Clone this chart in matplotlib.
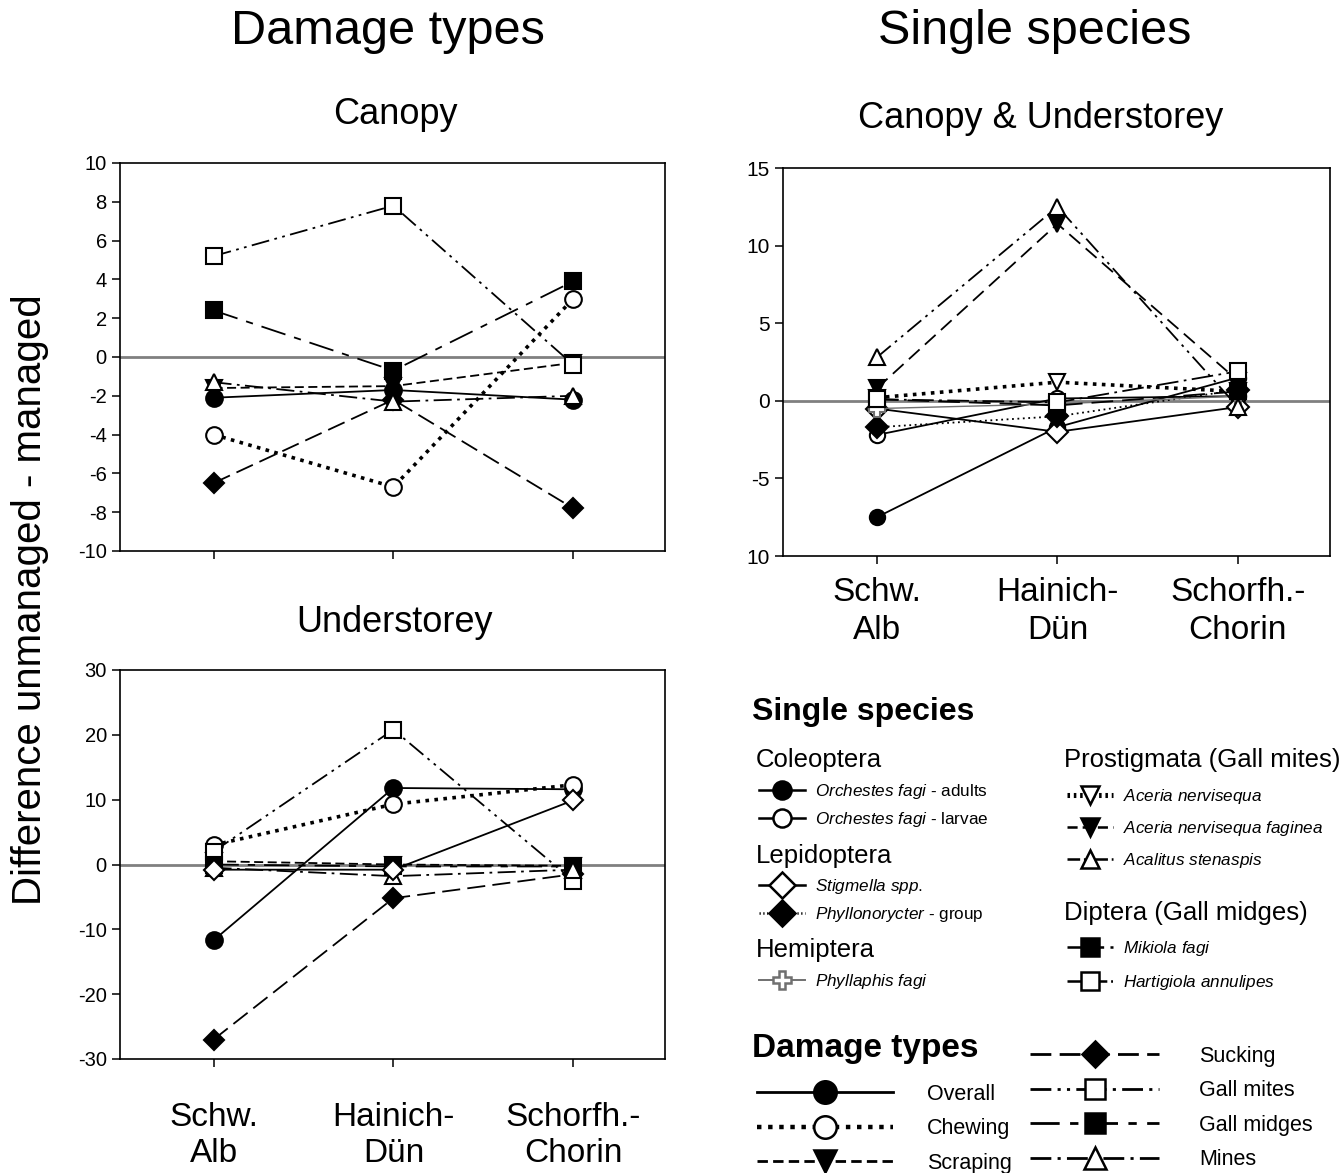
import numpy as np
import matplotlib
matplotlib.use("Agg")
import matplotlib.pyplot as plt
from matplotlib.lines import Line2D

plt.rcParams['font.family'] = ['Liberation Sans', 'DejaVu Sans']
plt.rcParams['mathtext.fontset'] = 'custom'
plt.rcParams['mathtext.rm'] = 'Liberation Sans'
plt.rcParams['mathtext.it'] = 'Liberation Sans:italic'
plt.rcParams['axes.unicode_minus'] = False

sites = ["Schw.\nAlb", "Hainich-\nDün", "Schorfh.-\nChorin"]
x = np.arange(1, 4)

# damage types - canopy
overall_c = [-2.1, -1.7, -2.2]
chewing_c = [-4.0, -6.7, 3.0]
scraping_c = [-1.6, -1.5, -0.3]
sucking_c = [-6.5, -2.2, -7.8]
gallmites_c = [5.2, 7.8, -0.4]
gallmidges_c = [2.4, -0.7, 3.9]
mines_c = [-1.3, -2.3, -2.0]

# damage types - understorey
overall_u = [-11.7, 11.8, 11.6]
chewing_u = [3.0, 9.3, 12.3]
scraping_u = [0.5, 0.0, -0.2]
sucking_u = [-27.0, -5.2, -1.5]
gallmites_u = [2.0, 20.8, -2.5]
gallmidges_u = [0.0, -0.3, -0.3]
mines_u = [-0.5, -1.8, -0.8]
extra_u = [-0.8, -0.8, 9.9]

# single species - canopy & understorey
orch_adults = [-7.5, -1.7, 1.5]
orch_larvae = [-2.2, 0.15, 0.3]
stigmella = [-0.5, -2.0, -0.4]
phyllonorycter = [-1.7, -1.0, 0.7]
phyllaphis = [-0.5, -0.2, 0.3]
aceria = [0.2, 1.2, 0.6]
aceria_fag = [0.8, 11.4, 1.3]
acalitus = [2.8, 12.5, -0.4]
mikiola = [0.1, -0.3, 0.6]
hartigiola = [0.1, -0.1, 1.9]

right_yticks = [15, 10, 5, 0, -5, -10]
right_yticklabels = ["15", "10", "5", "0", "-5", "10"]

damage_names = ["Overall", "Chewing", "Scraping", "Sucking", "Gall mites", "Gall midges", "Mines"]
canopy_vals = [overall_c, chewing_c, scraping_c, sucking_c, gallmites_c, gallmidges_c, mines_c]
under_vals = [overall_u, chewing_u, scraping_u, sucking_u, gallmites_u, gallmidges_u, mines_u]

damage_style = {
    "Overall": dict(ls='-', lw=1.3, marker='o', mfc='k', ms=12),
    "Chewing": dict(ls=(0, (1, 1.5)), lw=2.6, marker='o', mfc='w', ms=12),
    "Scraping": dict(ls=(0, (5, 2.5)), lw=1.3, marker='v', mfc='k', ms=12),
    "Sucking": dict(ls=(0, (10, 4)), lw=1.3, marker='D', mfc='k', ms=10),
    "Gall mites": dict(ls=(0, (10, 3, 1.5, 3, 1.5, 3)), lw=1.3, marker='s', mfc='w', ms=11),
    "Gall midges": dict(ls=(0, (14, 5, 4, 5)), lw=1.3, marker='s', mfc='k', ms=11),
    "Mines": dict(ls=(0, (10, 3, 1.5, 3)), lw=1.3, marker='^', mfc='w', ms=12),
}

species_labels = [
    r"$\it{Orchestes\ fagi}$ - adults",
    r"$\it{Orchestes\ fagi}$ - larvae",
    r"$\it{Stigmella\ spp.}$",
    r"$\it{Phyllonorycter}$ - group",
    r"$\it{Phyllaphis\ fagi}$",
    r"$\it{Aceria\ nervisequa}$",
    r"$\it{Aceria\ nervisequa\ faginea}$",
    r"$\it{Acalitus\ stenaspis}$",
    r"$\it{Mikiola\ fagi}$",
    r"$\it{Hartigiola\ annulipes}$",
]
species_vals = [orch_adults, orch_larvae, stigmella, phyllonorycter, phyllaphis,
                aceria, aceria_fag, acalitus, mikiola, hartigiola]
species_style = [
    dict(ls='-', lw=1.3, marker='o', mfc='k', mec='k', color='k'),
    dict(ls='-', lw=1.3, marker='o', mfc='w', mec='k', color='k'),
    dict(ls='-', lw=1.3, marker='D', mfc='w', mec='k', color='k'),
    dict(ls=(0, (1, 2)), lw=1.3, marker='D', mfc='k', mec='k', color='k'),
    dict(ls='-', lw=1.0, marker='P', mfc='w', mec='#707070', color='#707070'),
    dict(ls=(0, (1, 1.5)), lw=2.6, marker='v', mfc='w', mec='k', color='k'),
    dict(ls=(0, (8, 4)), lw=1.3, marker='v', mfc='k', mec='k', color='k'),
    dict(ls=(0, (10, 3, 1.5, 3, 1.5, 3)), lw=1.3, marker='^', mfc='w', mec='k', color='k'),
    dict(ls=(0, (12, 5)), lw=1.3, marker='s', mfc='k', mec='k', color='k'),
    dict(ls=(0, (12, 3, 1.5, 3)), lw=1.3, marker='s', mfc='w', mec='k', color='k'),
]

fig = plt.figure(figsize=(13.41, 11.73), dpi=100)
W, H = 1341.0, 1173.0


def fx(px):
    return px / W


def fy(py):
    return 1 - py / H


def rescale_ls(ls, factor):
    # keep the dash pattern length when the legend line is drawn thicker
    if isinstance(ls, tuple):
        return (ls[0], tuple(v * factor for v in ls[1]))
    return ls


def style_axes(ax, ylim, yticks):
    ax.axhline(0, color='#808080', lw=2.0, zorder=1)
    ax.set_xlim(0.48, 3.51)
    ax.set_ylim(*ylim)
    ax.set_yticks(yticks)
    ax.set_xticks(x)
    ax.tick_params(direction='out', length=6, width=1.1, labelsize=14.5, top=False, right=False)
    for sp in ax.spines.values():
        sp.set_linewidth(1.2)


# canopy
ax1 = fig.add_axes([fx(120), fy(551), fx(545), 388 / H])
for name, vals in zip(damage_names, canopy_vals):
    st = damage_style[name]
    ax1.plot(x, vals, color='k', mec='k', mew=1.5, zorder=3, **st)
style_axes(ax1, (-10, 10), np.arange(-10, 11, 2))
ax1.set_xticklabels([])

# understorey
ax2 = fig.add_axes([fx(120), fy(1059), fx(545), 389 / H])
for name, vals in zip(damage_names, under_vals):
    st = damage_style[name]
    ax2.plot(x, vals, color='k', mec='k', mew=1.5, zorder=3, **st)
ax2.plot(x, extra_u, color='k', ls='-', lw=1.3, marker='D', mfc='w', mec='k', mew=1.5, ms=10, zorder=3)
style_axes(ax2, (-30, 30), np.arange(-30, 31, 10))
ax2.set_xticklabels(sites, fontsize=24, linespacing=1.2)
ax2.tick_params(axis='x', pad=25)

# single species
ax3 = fig.add_axes([fx(783), fy(556), fx(547), 388 / H])
for vals, st in zip(species_vals, species_style):
    ax3.plot(x, vals, mew=1.5, ms=11, zorder=3, **st)
style_axes(ax3, (-10, 15), right_yticks)
ax3.set_yticklabels(right_yticklabels, fontsize=15)
ax3.set_xticklabels(sites, fontsize=24, linespacing=1.3)
ax3.tick_params(axis='x', pad=9)

# titles
fig.text(fx(388), fy(32), "Damage types", fontsize=35, ha='center', va='center')
fig.text(fx(1035), fy(32), "Single species", fontsize=35, ha='center', va='center')
fig.text(fx(395), fy(115), "Canopy", fontsize=26, ha='center', va='center')
fig.text(fx(395), fy(622), "Understorey", fontsize=26, ha='center', va='center')
fig.text(fx(1041), fy(118), "Canopy & Understorey", fontsize=26, ha='center', va='center')
fig.text(fx(30), fy(600), "Difference unmanaged - managed", fontsize=29,
         rotation=90, ha='center', va='center')

# single species legend
fig.text(fx(752), fy(712), "Single species", fontsize=23, fontweight='bold', va='center')
group_titles = [("Coleoptera", 756, 760), ("Lepidoptera", 756, 856), ("Hemiptera", 756, 950),
                ("Prostigmata (Gall mites)", 1064, 760), ("Diptera (Gall midges)", 1064, 913)]
for t, gx, gy in group_titles:
    fig.text(fx(gx), fy(gy), t, fontsize=18.5, va='center')

species_groups = [([0, 1], 759, 782, 0.55), ([2, 3], 759, 877, 0.55), ([4], 759, 972, 0.55),
                  ([5, 6, 7], 1067, 787, 0.75), ([8, 9], 1067, 939, 0.9)]
for idx, gx, gy, lsp in species_groups:
    hs = []
    for i in idx:
        st = dict(species_style[i])
        st['ls'] = rescale_ls(st['ls'], 0.5)
        st['lw'] = st['lw'] * 1.4
        hs.append(Line2D([], [], mew=1.8, ms=13, **st))
    fig.legend(hs, [species_labels[i] for i in idx], loc='upper left',
               bbox_to_anchor=(fx(gx), fy(gy)), frameon=False, fontsize=12.3,
               handlelength=2.7, handletextpad=0.6, labelspacing=lsp,
               borderpad=0, borderaxespad=0)

# damage types legend
fig.text(fx(752), fy(1048), "Damage types", fontsize=24, fontweight='bold', va='center')


def damage_handle(name):
    st = damage_style[name]
    lw = 3.2 if name == "Chewing" else 2.0
    ls = st['ls'] if name == "Chewing" else rescale_ls(st['ls'], 0.75)
    return Line2D([], [], color='k', mec='k', mew=1.8,
                  ls=ls, lw=lw, marker=st['marker'], mfc=st['mfc'], ms=st['ms'] * 1.35)


col1 = ["Overall", "Chewing", "Scraping"]
col2 = ["Sucking", "Gall mites", "Gall midges", "Mines"]
fig.legend([damage_handle(n) for n in col1], col1, loc='upper left',
           bbox_to_anchor=(fx(757), fy(1084)), frameon=False, fontsize=15.5,
           handlelength=6.3, handletextpad=1.6, labelspacing=0.62,
           borderpad=0, borderaxespad=0)
fig.legend([damage_handle(n) for n in col2], col2, loc='upper left',
           bbox_to_anchor=(fx(1030), fy(1046)), frameon=False, fontsize=15.5,
           handlelength=6.0, handletextpad=1.85, labelspacing=0.62,
           borderpad=0, borderaxespad=0)

fig.savefig("out.png", dpi=100)
